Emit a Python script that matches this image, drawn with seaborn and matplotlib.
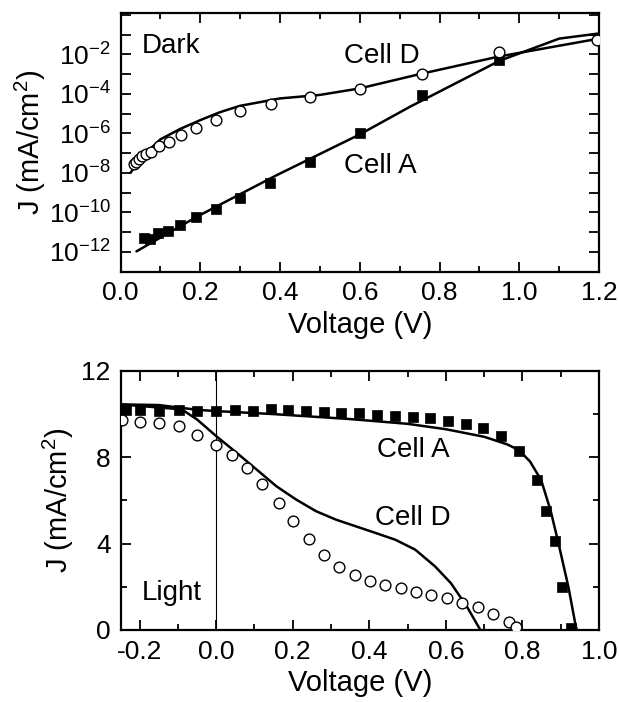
import numpy as np
import pandas as pd
import seaborn as sns
import matplotlib
matplotlib.use("Agg")
import matplotlib.pyplot as plt
from matplotlib.ticker import MultipleLocator, FixedLocator, FuncFormatter

# Dark J-V: measured points
dark_a_v = [0.06, 0.075, 0.095, 0.12, 0.15, 0.19, 0.24, 0.30, 0.375, 0.475, 0.60, 0.755, 0.95]
dark_a_j = [5.0e-12, 4.7e-12, 8.9e-12, 1.1e-11, 2.3e-11, 5.6e-11, 1.5e-10, 5.4e-10,
            3.0e-9, 3.4e-8, 1.1e-6, 8.9e-5, 5.4e-3]
dark_d_v = [0.033, 0.04, 0.047, 0.054, 0.064, 0.076, 0.096, 0.121, 0.151, 0.19, 0.239,
            0.30, 0.378, 0.476, 0.60, 0.755, 0.95, 1.195]
dark_d_j = [2.8e-8, 3.7e-8, 5.0e-8, 6.8e-8, 8.9e-8, 1.2e-7, 2.3e-7, 3.7e-7, 7.9e-7, 1.9e-6,
            5.0e-6, 1.3e-5, 3.2e-5, 6.8e-5, 1.7e-4, 1.07e-3, 1.3e-2, 5.4e-2]

# Dark J-V: fitted curves
fit_dark_a_v = [0.04, 0.193, 0.39, 0.60, 0.727, 0.95, 1.10, 1.20]
fit_dark_a_j = [1.07e-12, 6.3e-11, 7.4e-9, 8.9e-7, 2.3e-5, 4.7e-3, 6.3e-2, 1.15e-1]
fit_dark_d_v = [0.025, 0.05, 0.10, 0.15, 0.20, 0.25, 0.30, 0.40, 0.50, 0.60, 0.75, 0.95, 1.20]
fit_dark_d_j = [1.0e-8, 5.6e-8, 5.0e-7, 1.7e-6, 4.7e-6, 1.2e-5, 2.5e-5, 5.9e-5, 8.9e-5,
                1.9e-4, 1.0e-3, 7.9e-3, 6.3e-2]

# Light J-V: measured points
light_a_v = [-0.235, -0.198, -0.149, -0.097, -0.049, 0.0, 0.049, 0.095, 0.142, 0.188, 0.234,
             0.281, 0.327, 0.373, 0.42, 0.466, 0.513, 0.559, 0.605, 0.652, 0.698, 0.744,
             0.791, 0.837, 0.861, 0.884, 0.904, 0.928]
light_a_j = [10.17, 10.17, 10.14, 10.17, 10.14, 10.14, 10.17, 10.14, 10.22, 10.19, 10.14,
             10.10, 10.06, 10.03, 9.98, 9.90, 9.87, 9.80, 9.70, 9.55, 9.37, 8.98,
             8.31, 6.97, 5.53, 4.10, 2.01, 0.08]
light_d_v = [-0.247, -0.20, -0.15, -0.098, -0.05, 0.0, 0.04, 0.08, 0.119, 0.163, 0.201, 0.242,
             0.282, 0.321, 0.363, 0.401, 0.442, 0.482, 0.522, 0.562, 0.603, 0.642, 0.684,
             0.723, 0.764, 0.783]
light_d_j = [9.75, 9.63, 9.60, 9.45, 9.03, 8.55, 8.10, 7.50, 6.74, 5.88, 5.03, 4.21,
             3.48, 2.94, 2.55, 2.28, 2.08, 1.93, 1.78, 1.63, 1.47, 1.27, 1.05,
             0.74, 0.39, 0.12]

# Light J-V: fitted curves
fit_light_a_v = [-0.25, -0.15, -0.05, 0.0, 0.15, 0.35, 0.50, 0.60, 0.70, 0.76, 0.791, 0.82,
                 0.849, 0.874, 0.893, 0.92, 0.939, 0.942]
fit_light_a_j = [10.45, 10.42, 10.20, 10.14, 10.0, 9.77, 9.55, 9.30, 8.95, 8.60, 8.33, 7.80,
                 6.94, 5.50, 4.10, 2.00, 0.20, 0.0]
fit_light_d_v = [-0.25, -0.09, -0.05, 0.0, 0.054, 0.095, 0.157, 0.209, 0.261, 0.313, 0.365,
                 0.417, 0.468, 0.52, 0.572, 0.613, 0.655, 0.69]
fit_light_d_j = [10.45, 10.22, 9.75, 8.98, 8.20, 7.59, 6.66, 6.04, 5.50, 5.11, 4.80,
                 4.49, 4.18, 3.72, 2.94, 2.17, 1.08, 0.0]

sns.set_theme(style="ticks")
plt.rcParams['font.family'] = ['Liberation Sans', 'DejaVu Sans']
plt.rcParams['mathtext.fontset'] = 'custom'
plt.rcParams['mathtext.rm'] = 'Liberation Sans'
plt.rcParams['mathtext.it'] = 'Liberation Sans:italic'
plt.rcParams['mathtext.bf'] = 'Liberation Sans:bold'
for key in ['text.color', 'axes.labelcolor', 'xtick.color', 'ytick.color', 'axes.edgecolor']:
    plt.rcParams[key] = 'black'

TICK_FS = 19
LABEL_FS = 21
TEXT_FS = 20
fig = plt.figure(figsize=(6.19, 7.02), dpi=100)
ax1 = fig.add_axes([0.1947, 0.613, 0.773, 0.368])
ax2 = fig.add_axes([0.1947, 0.1026, 0.773, 0.369])


def style_axes(ax):
    for sp in ax.spines.values():
        sp.set_linewidth(1.6)
        sp.set_color('black')
    ax.tick_params(which='both', direction='in', top=True, right=True,
                   width=1.3, colors='black', labelsize=TICK_FS, pad=7)
    ax.tick_params(which='major', length=7)
    ax.tick_params(which='minor', length=4)
    ax.grid(False)


# top panel: dark
sns.lineplot(x=fit_dark_a_v, y=fit_dark_a_j, ax=ax1, color='black', lw=1.8, sort=False)
sns.lineplot(x=fit_dark_d_v, y=fit_dark_d_j, ax=ax1, color='black', lw=1.8, sort=False)
sns.scatterplot(x=dark_a_v, y=dark_a_j, ax=ax1, marker='s', s=55, color='black',
                edgecolor='black', linewidth=0.5, zorder=3)
sns.scatterplot(x=dark_d_v, y=dark_d_j, ax=ax1, marker='o', s=60, facecolor='white',
                edgecolor='black', linewidth=1.0, zorder=3)
ax1.set_yscale('log')
ax1.set_xlim(0, 1.2)
ax1.set_ylim(1e-13, 1.2)
ax1.xaxis.set_major_locator(MultipleLocator(0.2))
ax1.xaxis.set_minor_locator(MultipleLocator(0.1))
ax1.yaxis.set_major_locator(FixedLocator([10.0 ** k for k in range(-13, 1)]))
ax1.yaxis.set_minor_locator(FixedLocator([]))


def log_fmt(val, pos):
    e = int(round(np.log10(val)))
    if e % 2 == 0 and -12 <= e <= -2:
        return r'10$^{%d}$' % e
    return ''


ax1.yaxis.set_major_formatter(FuncFormatter(log_fmt))
ax1.xaxis.set_major_formatter(FuncFormatter(lambda v, p: f'{v:.1f}'))
style_axes(ax1)
ax1.set_xlabel('Voltage (V)', fontsize=LABEL_FS, labelpad=4)
ax1.set_ylabel('J (mA/cm$^2$)', fontsize=LABEL_FS)
ax1.yaxis.set_label_coords(-0.152, 0.5)
ax1.text(0.054, 10 ** -1.55, 'Dark', fontsize=TEXT_FS, va='center', ha='left')
ax1.text(0.56, 10 ** -2.06, 'Cell D', fontsize=TEXT_FS, va='center', ha='left')
ax1.text(0.56, 10 ** -7.63, 'Cell A', fontsize=TEXT_FS, va='center', ha='left')

# bottom panel: light
ax2.axvline(0, color='black', lw=0.8)
sns.lineplot(x=fit_light_a_v, y=fit_light_a_j, ax=ax2, color='black', lw=1.8, sort=False)
sns.lineplot(x=fit_light_d_v, y=fit_light_d_j, ax=ax2, color='black', lw=1.8, sort=False)
sns.scatterplot(x=light_a_v, y=light_a_j, ax=ax2, marker='s', s=55, color='black',
                edgecolor='black', linewidth=0.5, zorder=3)
sns.scatterplot(x=light_d_v, y=light_d_j, ax=ax2, marker='o', s=60, facecolor='white',
                edgecolor='black', linewidth=1.0, zorder=3)
ax2.set_xlim(-0.25, 1.0)
ax2.set_ylim(0, 12)
ax2.xaxis.set_major_locator(MultipleLocator(0.2))
ax2.xaxis.set_minor_locator(MultipleLocator(0.1))
ax2.yaxis.set_major_locator(MultipleLocator(4))
ax2.yaxis.set_minor_locator(MultipleLocator(2))
ax2.xaxis.set_major_formatter(FuncFormatter(lambda v, p: f'{v:.1f}'.replace('-0.0', '0.0')))
style_axes(ax2)
ax2.set_xlabel('Voltage (V)', fontsize=LABEL_FS, labelpad=4)
ax2.set_ylabel('J (mA/cm$^2$)', fontsize=LABEL_FS)
ax2.yaxis.set_label_coords(-0.092, 0.5)
ax2.text(0.514, 8.36, 'Cell A', fontsize=TEXT_FS, va='center', ha='center')
ax2.text(0.514, 5.19, 'Cell D', fontsize=TEXT_FS, va='center', ha='center')
ax2.text(-0.115, 1.7, 'Light', fontsize=TEXT_FS, va='center', ha='center')

fig.savefig('out.png', dpi=100)
